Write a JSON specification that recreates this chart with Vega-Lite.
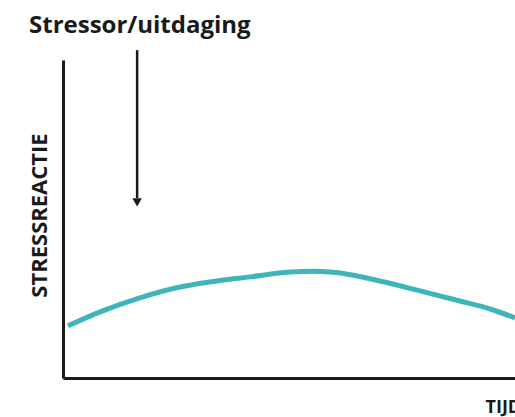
{
  "$schema": "https://vega.github.io/schema/vega-lite/v6.json",
  "width": 452,
  "height": 318,
  "autosize": "none",
  "padding": {"left": 63, "top": 60, "right": 0, "bottom": 39},
  "background": "white",
  "title": {"text": "Stressor/uitdaging", "anchor": "start", "frame": "group", "dx": -34, "offset": -8, "baseline": "alphabetic", "font": "Open Sans", "fontSize": 24, "fontWeight": "bold", "color": "#1a1a1a"},
  "config": {"view": {"stroke": null}},
  "datasets": {
    "curve": [
      {"t": 1.1, "r": 16.4}, {"t": 8.2, "r": 20.8}, {"t": 17.0, "r": 25.2}, {"t": 25.9, "r": 28.6},
      {"t": 32.5, "r": 30.2}, {"t": 41.4, "r": 31.8}, {"t": 50.2, "r": 33.3}, {"t": 55.8, "r": 33.6},
      {"t": 61.3, "r": 33.0}, {"t": 70.1, "r": 30.5}, {"t": 79.0, "r": 27.4}, {"t": 87.8, "r": 24.2},
      {"t": 94.5, "r": 21.7}, {"t": 100, "r": 18.9}
    ],
    "arrow": [{"t": 16.4, "top": 103.1, "bottom": 56.6, "head": 55.2}]
  },
  "layer": [
    {
      "data": {"name": "curve"},
      "mark": {"type": "line", "color": "#3db5ba", "strokeWidth": 5, "interpolate": "monotone", "clip": false},
      "encoding": {
        "x": {"field": "t", "type": "quantitative", "scale": {"domain": [0, 100], "nice": false},
              "axis": {"title": "TIJD", "labels": false, "ticks": false, "grid": false, "domainColor": "#1a1a1a", "domainWidth": 3,
                       "titleFont": "Open Sans", "titleFontSize": 18, "titleFontWeight": "bold", "titleColor": "#1a1a1a",
                       "titleAnchor": "start", "titleAlign": "left", "titleX": 422, "titleY": 34, "titleBaseline": "alphabetic"}},
        "y": {"field": "r", "type": "quantitative", "scale": {"domain": [0, 100], "nice": false},
              "axis": {"title": "STRESSREACTIE", "labels": false, "ticks": false, "grid": false, "domainColor": "#1a1a1a", "domainWidth": 3,
                       "titleFont": "Open Sans", "titleFontSize": 22, "titleFontWeight": "bold", "titleColor": "#1a1a1a",
                       "titleX": -24, "titleY": 155, "titleAlign": "center", "titleBaseline": "middle"}}
      }
    },
    {
      "data": {"name": "arrow"},
      "mark": {"type": "rule", "color": "#1a1a1a", "strokeWidth": 2.5, "clip": false},
      "encoding": {
        "x": {"field": "t", "type": "quantitative"},
        "y": {"field": "top", "type": "quantitative"},
        "y2": {"field": "bottom"}
      }
    },
    {
      "data": {"name": "arrow"},
      "mark": {"type": "point", "shape": "triangle-down", "filled": true, "color": "#1a1a1a", "size": 90, "opacity": 1, "clip": false},
      "encoding": {
        "x": {"field": "t", "type": "quantitative"},
        "y": {"field": "head", "type": "quantitative"}
      }
    }
  ]
}
